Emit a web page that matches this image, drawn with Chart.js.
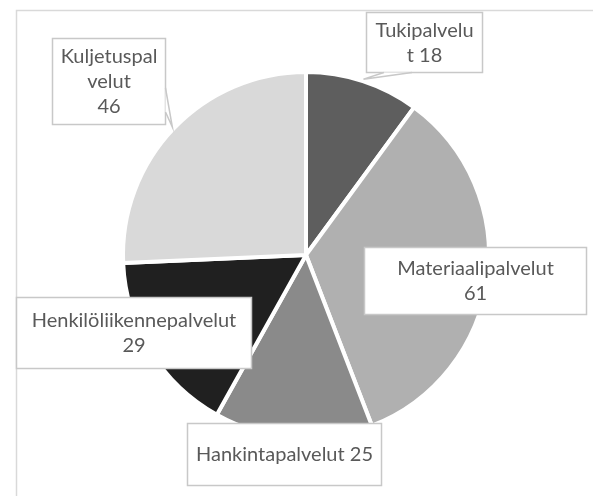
<!DOCTYPE html>
<html>
<head>
<meta charset="utf-8">
<script src="https://cdn.jsdelivr.net/npm/chart.js@4"></script>
<style>
  html, body { margin: 0; padding: 0; background: #fff; }
  #wrap { width: 593px; height: 496px; }
</style>
</head>
<body>
<div id="wrap"><canvas id="pie"></canvas></div>
<script>
// === data ===
const categories = ['Tukipalvelut', 'Materiaalipalvelut', 'Hankintapalvelut', 'Henkilöliikennepalvelut', 'Kuljetuspalvelut'];
const values = [18, 61, 25, 29, 46];
const sliceColors = ['#5e5e5e', '#b0b0b0', '#8a8a8a', '#202020', '#d9d9d9'];

// callout boxes (layout only): box rect, where the name wraps, tail side
const labelBoxes = [
    { x: 366, y: 12, w: 116, h: 60, wrapAt: 11, tail: 'bottom' },
    { x: 364, y: 247, w: 222, h: 67, wrapAt: null, tail: null },
    { x: 187, y: 423, w: 194, h: 62, wrapAt: null, oneLine: true, tail: null },
    { x: 16, y: 297, w: 235, h: 71, wrapAt: null, tail: null },
    { x: 52, y: 38, w: 113, h: 86, wrapAt: 11, tail: 'right' }
];

const FONT = '20px Lato';
const TEXT_COLOR = '#595959';
const BOX_BORDER = '#c8c8c8';

function labelLines(i) {
    const name = categories[i];
    const b = labelBoxes[i];
    if (b.oneLine) return [name + ' ' + values[i]];
    if (b.wrapAt) {
        const rest = name.slice(b.wrapAt);
        // a short leftover shares its line with the value
        if (rest.length <= 1) return [name.slice(0, b.wrapAt), rest + ' ' + values[i]];
        return [name.slice(0, b.wrapAt), rest, String(values[i])];
    }
    return [name, String(values[i])];
}

const calloutPlugin = {
    id: 'callouts',
    beforeDraw(chart) {
        const ctx = chart.ctx;
        ctx.save();
        ctx.strokeStyle = '#d9d9d9';
        ctx.lineWidth = 1.5;
        ctx.beginPath();
        ctx.moveTo(16.5, chart.height);
        ctx.lineTo(16.5, 10.5);
        ctx.lineTo(chart.width, 10.5);
        ctx.stroke();
        ctx.restore();
    },
    afterDatasetsDraw(chart) {
        const ctx = chart.ctx;
        const meta = chart.getDatasetMeta(0);
        ctx.save();
        labelBoxes.forEach((b, i) => {
            const arc = meta.data[i];
            const mid = (arc.startAngle + arc.endAngle) / 2;
            const tip = {
                x: arc.x + Math.cos(mid) * (arc.outerRadius + 2),
                y: arc.y + Math.sin(mid) * (arc.outerRadius + 2)
            };
            ctx.fillStyle = '#fff';
            ctx.strokeStyle = BOX_BORDER;
            ctx.lineWidth = 1.5;
            ctx.fillRect(b.x, b.y, b.w, b.h);
            ctx.strokeRect(b.x + 0.5, b.y + 0.5, b.w, b.h);

            let p1, p2;
            if (b.tail === 'bottom') {
                p1 = { x: b.x + 18, y: b.y + b.h + 0.5 };
                p2 = { x: b.x + 46, y: b.y + b.h + 0.5 };
            } else if (b.tail === 'right') {
                p1 = { x: b.x + b.w + 0.5, y: b.y + 50 };
                p2 = { x: b.x + b.w + 0.5, y: b.y + 74 };
            }
            if (p1) {
                ctx.beginPath();
                ctx.moveTo(p1.x, p1.y);
                ctx.lineTo(tip.x, tip.y);
                ctx.lineTo(p2.x, p2.y);
                ctx.closePath();
                ctx.fill();
                ctx.beginPath();
                ctx.moveTo(p1.x, p1.y);
                ctx.lineTo(tip.x, tip.y);
                ctx.lineTo(p2.x, p2.y);
                ctx.stroke();
            }

            const lines = labelLines(i);
            const lh = 25;
            ctx.fillStyle = TEXT_COLOR;
            ctx.font = FONT;
            ctx.textAlign = 'center';
            ctx.textBaseline = 'middle';
            const cy = b.y + b.h / 2 - (lines.length - 1) * lh / 2;
            lines.forEach((t, k) => ctx.fillText(t, b.x + b.w / 2 + 0.5, cy + k * lh + 1));
        });
        ctx.restore();
    }
};

new Chart(document.getElementById('pie'), {
    type: 'pie',
    data: {
        labels: categories,
        datasets: [{
            data: values,
            backgroundColor: sliceColors,
            borderColor: '#ffffff',
            borderWidth: 4
        }]
    },
    options: {
        responsive: true,
        maintainAspectRatio: false,
        animation: false,
        layout: { padding: { top: 70, bottom: 56, left: 121, right: 102 } },
        plugins: {
            legend: { display: false },
            tooltip: { enabled: false }
        }
    },
    plugins: [calloutPlugin]
});
</script>
</body>
</html>
